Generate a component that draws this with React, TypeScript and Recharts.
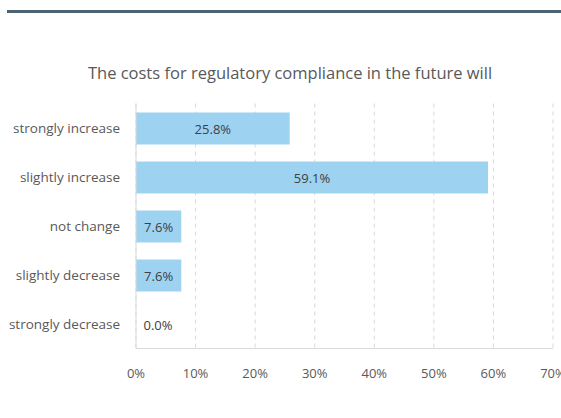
import { BarChart, Bar, XAxis, YAxis, CartesianGrid, LabelList, Cell } from 'recharts'

const categories = [
  'strongly increase',
  'slightly increase',
  'not change',
  'slightly decrease',
  'strongly decrease',
]
const shares = [0.258, 0.591, 0.076, 0.076, 0.0]
const xTicks = [0, 0.1, 0.2, 0.3, 0.4, 0.5, 0.6, 0.7]

const data = categories.map((name, i) => ({ name, value: shares[i] }))

const font = '"Open Sans", sans-serif'

const pct = (v: number) => `${Math.round(v * 100)}%`

const BarLabel = (props: any) => {
  const { x, y, width, height, value } = props
  const cx = x + Math.max(width / 2, 22)
  return (
    <text
      x={cx}
      y={y + height / 2}
      textAnchor='middle'
      dominantBaseline='central'
      fill='#404040'
      fontSize={13}
      fontFamily={font}
    >
      {(value * 100).toFixed(1)}%
    </text>
  )
}

const App = () => {
  return (
    <div
      style={{
        position: 'absolute',
        left: 0,
        top: 0,
        width: 561,
        height: 418,
        background: '#fff',
        fontFamily: font,
      }}
    >
      {/* top rule */}
      <div
        style={{
          position: 'absolute',
          left: 7,
          top: 10,
          width: 554,
          height: 3,
          background: '#4b6272',
        }}
      />
      {/* title */}
      <div
        style={{
          position: 'absolute',
          top: 61,
          left: 0,
          width: 580,
          textAlign: 'center',
          fontSize: 16.5,
          color: '#595959',
        }}
      >
        The costs for regulatory compliance in the future will
      </div>
      <BarChart
        width={561}
        height={418}
        data={data}
        layout='vertical'
        margin={{ top: 103.5, right: 8, bottom: 39.5, left: 0 }}
      >
        <CartesianGrid
          horizontal={false}
          stroke='#d9d9d9'
          strokeDasharray='4 4'
        />
        <XAxis
          type='number'
          domain={[0, 0.7]}
          ticks={xTicks}
          tickFormatter={pct}
          axisLine={{ stroke: '#d9d9d9' }}
          tickLine={false}
          tickMargin={14}
          height={30}
          interval={0}
          tick={{ fill: '#595959', fontSize: 13, fontFamily: font }}
        />
        <YAxis
          type='category'
          dataKey='name'
          width={136}
          axisLine={{ stroke: '#d9d9d9' }}
          tickLine={false}
          tickMargin={10}
          tick={{ fill: '#595959', fontSize: 13.5, fontFamily: font }}
        />
        <Bar
          dataKey='value'
          fill='#9dd3f0'
          barSize={32}
          minPointSize={1}
          isAnimationActive={false}
        >
          {data.map((d) => (
            <Cell key={d.name} fill={d.value > 0 ? '#9dd3f0' : 'transparent'} />
          ))}
          <LabelList dataKey='value' content={BarLabel} />
        </Bar>
      </BarChart>
    </div>
  )
}

export default App
